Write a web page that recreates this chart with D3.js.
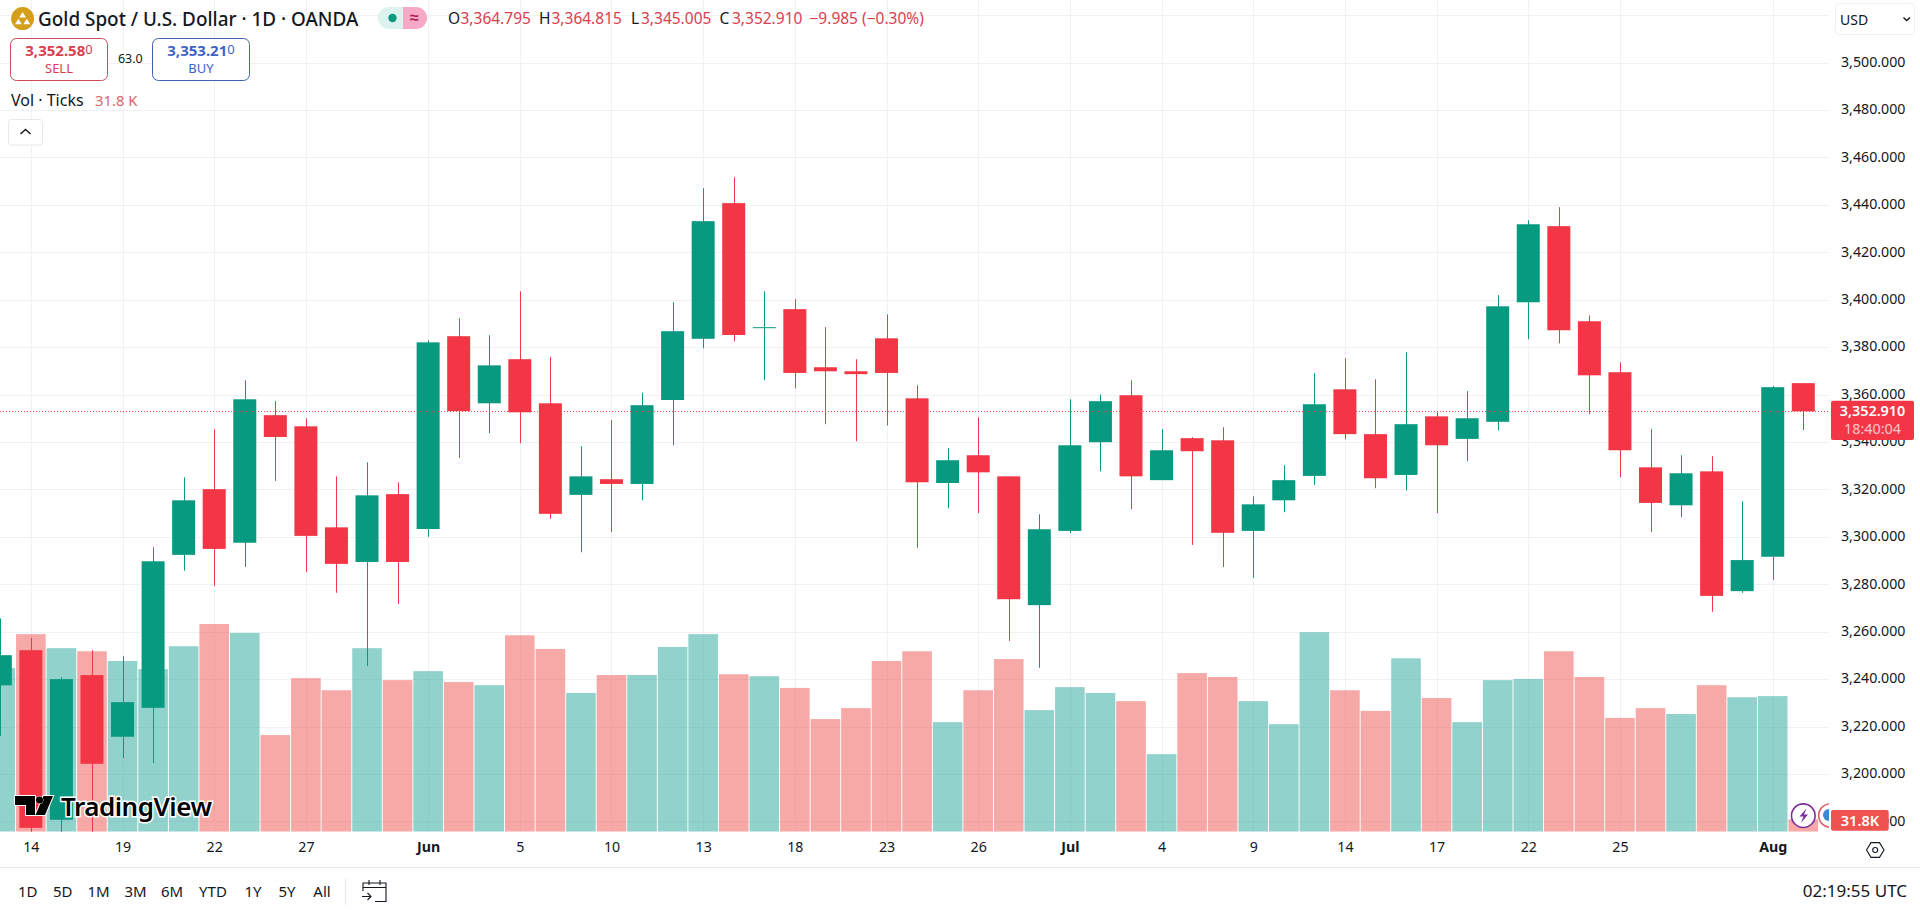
<!DOCTYPE html>
<html>
<head>
<meta charset="utf-8">
<title>Gold Spot / U.S. Dollar</title>
<script src="https://cdnjs.cloudflare.com/ajax/libs/d3/7.9.0/d3.min.js"></script>
<style>
  html, body { margin: 0; padding: 0; background: #fff; overflow: hidden; }
  svg { display: block; font-family: "Noto Sans", sans-serif; }
  .tick text { font-family: "Noto Sans", sans-serif; }
</style>
</head>
<body>
<div id="chart"></div>
<script>
// Daily candles, May 13 to Aug 4 (reading off the picture)
const opens = [3237.4,3252.2,3180.7,3241.7,3215.7,3227.9,3292.4,3320.1,3297.5,3351.3,3346.6,3304.0,3289.4,3318.0,3303.3,3384.6,3356.3,3374.9,3356.3,3317.7,3324.3,3322.3,3357.7,3383.5,3440.7,3388.0,3396.0,3371.5,3369.8,3383.7,3358.4,3322.7,3334.4,3325.5,3271.2,3302.5,3339.9,3359.7,3323.9,3341.6,3340.7,3302.5,3315.4,3325.7,3362.2,3343.3,3326.1,3350.8,3341.3,3348.5,3398.9,3431.0,3390.9,3369.4,3329.3,3313.3,3327.6,3277.1,3291.6,3364.795];
const highs = [3265.6,3257.4,3240.8,3252.2,3249.7,3295.6,3325.1,3345.4,3366.0,3357.2,3350.0,3325.5,3331.4,3323.0,3382.9,3392.2,3385.0,3403.5,3375.9,3338.2,3349.2,3360.8,3398.9,3447.0,3451.6,3403.5,3400.2,3388.4,3374.9,3393.8,3363.9,3337.4,3350.4,3325.6,3309.5,3358.0,3360.1,3366.0,3345.4,3342.0,3346.2,3317.1,3330.2,3369.0,3375.3,3366.4,3377.8,3352.5,3361.4,3401.9,3433.5,3439.0,3393.4,3373.6,3345.4,3334.4,3334.0,3315.0,3363.5,3364.815];
const lows = [3216.1,3175.0,3170.0,3170.0,3206.7,3204.6,3285.7,3279.3,3287.3,3323.6,3285.2,3276.4,3245.5,3271.7,3300.0,3333.3,3343.7,3339.5,3307.6,3293.5,3302.0,3315.4,3338.6,3379.5,3382.5,3366.0,3362.6,3347.5,3340.3,3347.0,3295.4,3312.0,3310.0,3256.1,3244.8,3301.5,3327.6,3311.6,3323.9,3296.6,3287.3,3282.7,3310.4,3321.9,3341.1,3320.5,3319.6,3310.0,3331.9,3344.9,3383.3,3381.6,3351.7,3325.1,3302.0,3308.3,3268.4,3276.4,3281.9,3345.005];
const closes = [3250.1,3177.3,3240.0,3204.3,3230.3,3289.7,3315.4,3294.9,3358.0,3342.1,3300.4,3288.6,3317.5,3289.4,3382.0,3353.0,3372.3,3352.5,3309.7,3325.5,3322.3,3355.5,3386.7,3433.1,3385.1,3388.4,3369.1,3369.8,3368.6,3369.1,3323.0,3332.3,3327.2,3273.7,3303.2,3338.6,3357.2,3325.5,3336.5,3336.1,3301.7,3313.7,3323.9,3355.9,3343.3,3324.7,3347.5,3338.6,3350.0,3397.2,3431.8,3387.1,3368.1,3336.5,3314.3,3326.8,3275.1,3290.2,3363.1,3352.91];
// Tick volume in thousands
const volumes = [420,507,471,463,438,417,476,533,510,248,394,363,471,389,412,384,376,504,469,356,402,402,474,507,404,399,369,289,317,438,463,281,363,443,312,371,356,335,199,407,397,335,276,512,363,310,445,343,281,389,392,463,397,292,317,302,376,345,348,31.8];

const priceTicks = [3500,3480,3460,3440,3420,3400,3380,3360,3340,3320,3300,3280,3260,3240,3220,3200,3180];
const dayTickIndex = [1,4,7,10,14,17,20,23,26,29,32,35,38,41,44,47,50,53,58];
const dayTickLabels = ["14","19","22","27","Jun","5","10","13","18","23","26","Jul","4","9","14","17","22","25","Aug"];
const monthLabels = ["Jun","Jul","Aug"];
const rangeButtons = ["1D","5D","1M","3M","6M","YTD","1Y","5Y","All"];
const rangeButtonX = [27.8,62.8,98.5,135.5,172,213,253,287,322];

const lastPrice = 3352.91;

const GREEN = "#089981", RED = "#f23645";
const width = 1920, height = 910;
const paneRight = 1829, paneBottom = 831.7;

const svg = d3.select("#chart").append("svg")
  .attr("width", width)
  .attr("height", height);

svg.append("defs").append("clipPath").attr("id", "pane")
  .append("rect").attr("width", paneRight).attr("height", paneBottom);

const x = d3.scaleLinear().domain([0, 59]).range([0.3, 1803.3]);
const y = d3.scaleLinear().domain([3200, 3500]).range([774.0, 62.5]);
const yVol = d3.scaleLinear().domain([0, 533]).range([paneBottom, 624]);

const pane = svg.append("g").attr("clip-path", "url(#pane)");

// Grid
pane.append("g").selectAll("line").data(dayTickIndex).join("line")
  .attr("x1", d => Math.round(x(d)) + 0.5).attr("x2", d => Math.round(x(d)) + 0.5)
  .attr("y1", 0).attr("y2", paneBottom)
  .attr("stroke", "#f0f1f4");
pane.append("g").selectAll("line").data([3520, ...priceTicks]).join("line")
  .attr("x1", 0).attr("x2", paneRight)
  .attr("y1", d => Math.round(y(d)) + 0.5).attr("y2", d => Math.round(y(d)) + 0.5)
  .attr("stroke", "#f0f1f4");

// Volume
const isUp = i => closes[i] >= opens[i];
pane.append("g").selectAll("rect").data(volumes).join("rect")
  .attr("x", (d, i) => x(i) - 14.8)
  .attr("width", 29.6)
  .attr("y", d => yVol(d))
  .attr("height", d => paneBottom - yVol(d))
  .attr("fill", (d, i) => isUp(i) ? "rgba(38,166,154,0.5)" : "rgba(239,83,80,0.5)");

// Candles
const candles = pane.append("g").selectAll("g").data(opens).join("g")
  .attr("fill", (d, i) => isUp(i) ? GREEN : RED);
candles.append("rect")
  .attr("x", (d, i) => Math.round(x(i)))
  .attr("width", 1)
  .attr("y", (d, i) => y(highs[i]))
  .attr("height", (d, i) => y(lows[i]) - y(highs[i]));
candles.append("rect")
  .attr("x", (d, i) => x(i) - 11.5)
  .attr("width", 23)
  .attr("y", (d, i) => y(Math.max(opens[i], closes[i])))
  .attr("height", (d, i) => Math.max(1, Math.abs(y(opens[i]) - y(closes[i]))));

// Last price line
pane.append("line")
  .attr("x1", 0).attr("x2", paneRight)
  .attr("y1", Math.round(y(lastPrice)) + 0.5).attr("y2", Math.round(y(lastPrice)) + 0.5)
  .attr("stroke", RED).attr("stroke-opacity", 0.9)
  .attr("stroke-dasharray", "1,2");

// Event badges at the edge of the pane
pane.append("circle").attr("cx", 1803.3).attr("cy", 815.7).attr("r", 11.8)
  .attr("fill", "#fff").attr("stroke", "#7b2d9b").attr("stroke-width", 1.6);
pane.append("path").attr("d", "M1806.5 808.5 L1799.5 816.5 L1803.5 816.5 L1801 823 L1808 814.5 L1804 814.5 Z")
  .attr("fill", "#7b2d9b");
pane.append("circle").attr("cx", 1830.5).attr("cy", 815.5).attr("r", 11.8)
  .attr("fill", "#fff").attr("stroke", "#e2606a").attr("stroke-width", 1.6);
pane.append("circle").attr("cx", 1829).attr("cy", 815).attr("r", 6)
  .attr("fill", "#3d86d8");

// Price axis
const yAxis = svg.append("g")
  .attr("transform", "translate(1829,0)")
  .call(d3.axisRight(y).tickValues(priceTicks).tickFormat(d3.format(",.3f")).tickSize(0).tickPadding(12));
yAxis.select(".domain").remove();
yAxis.selectAll("text").attr("font-size", 14.2).attr("fill", "#131722").attr("dy", "0.27em");

// Time axis
const xAxis = svg.append("g")
  .attr("transform", `translate(0,${paneBottom})`)
  .call(d3.axisBottom(x).tickValues(dayTickIndex).tickFormat((d, i) => dayTickLabels[i]).tickSize(0).tickPadding(10.5));
xAxis.select(".domain").remove();
xAxis.selectAll("text")
  .attr("font-size", 14.2)
  .attr("fill", "#131722")
  .attr("font-weight", (d, i) => monthLabels.includes(dayTickLabels[i]) ? 700 : 400);

svg.append("line").attr("x1", 0).attr("x2", width).attr("y1", 867.5).attr("y2", 867.5)
  .attr("stroke", "#e6e8ee");

// Axis labels
svg.append("rect").attr("x", 1831).attr("y", 400.7).attr("width", 83).attr("height", 39.3).attr("rx", 2)
  .attr("fill", RED);
svg.append("text").attr("x", 1872.5).attr("y", 416).attr("text-anchor", "middle")
  .attr("font-size", 14.4).attr("font-weight", 600).attr("fill", "#fff").text(d3.format(",.3f")(lastPrice));
svg.append("text").attr("x", 1872.5).attr("y", 434).attr("text-anchor", "middle")
  .attr("font-size", 14.4).attr("fill", "#fbc6cb").text("18:40:04");
svg.append("rect").attr("x", 1831).attr("y", 810).attr("width", 57.7).attr("height", 20.7).attr("rx", 2)
  .attr("fill", "#ef5350");
svg.append("text").attr("x", 1860).attr("y", 825.5).attr("text-anchor", "middle")
  .attr("font-size", 14.6).attr("font-weight", 600).attr("fill", "#fff").text("31.8K");

// Settings hexagon
svg.append("path").attr("d", "M1866.5 850 L1871 842.6 L1879.5 842.6 L1884 850 L1879.5 857.4 L1871 857.4 Z")
  .attr("fill", "none").attr("stroke", "#131722").attr("stroke-width", 1.1);
svg.append("circle").attr("cx", 1875.2).attr("cy", 850).attr("r", 2.5)
  .attr("fill", "none").attr("stroke", "#131722").attr("stroke-width", 1.1);

// Currency select
svg.append("rect").attr("x", 1835.5).attr("y", 3.5).attr("width", 79).attr("height", 31).attr("rx", 4)
  .attr("fill", "#fff").attr("stroke", "#eff0f3");
svg.append("text").attr("x", 1840).attr("y", 24.5).attr("font-size", 14).attr("fill", "#131722").text("USD");
svg.append("path").attr("d", "M1903.5 17.5 L1906.7 20.5 L1910 17.5").attr("fill", "none")
  .attr("stroke", "#131722").attr("stroke-width", 1.4);

// Symbol header
const header = svg.append("g");
header.append("circle").attr("cx", 22.6).attr("cy", 18.6).attr("r", 11.5).attr("fill", "#d49f1a");
header.append("path").attr("d", "M22.6 12 L26 17.5 L19.2 17.5 Z M18.4 18.8 L21.8 24.3 L15 24.3 Z M26.8 18.8 L30.2 24.3 L23.4 24.3 Z")
  .attr("fill", "#fff");
header.append("text").attr("x", 38).attr("y", 25.5).attr("font-size", 18.9).attr("font-weight", 500)
  .attr("fill", "#131722").text("Gold Spot / U.S. Dollar · 1D · OANDA");

header.append("path").attr("d", "M403 7 H389 a11 11 0 0 0 0 22 H403 Z").attr("fill", "#dcf2ee");
header.append("path").attr("d", "M403 7 H416 a11 11 0 0 1 0 22 H403 Z").attr("fill", "#f7a8c6");
header.append("circle").attr("cx", 392.5).attr("cy", 18).attr("r", 4.2).attr("fill", GREEN);
header.append("text").attr("x", 414.5).attr("y", 23).attr("text-anchor", "middle").attr("font-size", 16)
  .attr("font-weight", 700).attr("fill", "#b01e56").text("≈");

const ohlcLabels = ["O","H","L","C"];
const ohlcLabelX = [448,539,631,719.5];
const ohlcValueX = [460.5,551.5,641,732];
const ohlcValues = [opens[59],highs[59],lows[59],closes[59]];
header.selectAll("text.ohlc-label").data(ohlcLabels).join("text")
  .attr("class", "ohlc-label")
  .attr("x", (d, i) => ohlcLabelX[i]).attr("y", 24).attr("font-size", 15.5).attr("fill", "#131722").text(d => d);
header.selectAll("text.ohlc-value").data(ohlcValues).join("text")
  .attr("class", "ohlc-value")
  .attr("x", (d, i) => ohlcValueX[i]).attr("y", 24).attr("font-size", 15.5).attr("fill", "#d8404f")
  .text(d => d3.format(",.3f")(d));
header.append("text").attr("x", 809.5).attr("y", 24).attr("font-size", 15.5).attr("fill", "#d8404f")
  .text("−9.985 (−0.30%)");

// Sell / buy buttons
header.append("rect").attr("x", 10.5).attr("y", 38.5).attr("width", 97).attr("height", 42).attr("rx", 6)
  .attr("fill", "#fff").attr("stroke", "#cf4a59");
header.append("rect").attr("x", 152.5).attr("y", 38.5).attr("width", 97).attr("height", 42).attr("rx", 6)
  .attr("fill", "#fff").attr("stroke", "#3f62b5");
const sellText = header.append("text").attr("x", 59).attr("y", 55.5).attr("text-anchor", "middle")
  .attr("font-size", 15).attr("fill", "#d8404f");
sellText.append("tspan").attr("font-weight", 700).text("3,352.58");
sellText.append("tspan").attr("font-size", 13).attr("dy", -2).text("0");
header.append("text").attr("x", 59).attr("y", 72.5).attr("text-anchor", "middle").attr("font-size", 13)
  .attr("fill", "#d8404f").text("SELL");
const buyText = header.append("text").attr("x", 201).attr("y", 55.5).attr("text-anchor", "middle")
  .attr("font-size", 15).attr("fill", "#3f62c5");
buyText.append("tspan").attr("font-weight", 700).text("3,353.21");
buyText.append("tspan").attr("font-size", 13).attr("dy", -2).text("0");
header.append("text").attr("x", 201).attr("y", 72.5).attr("text-anchor", "middle").attr("font-size", 13)
  .attr("fill", "#3f62c5").text("BUY");
header.append("text").attr("x", 130.3).attr("y", 62.5).attr("text-anchor", "middle").attr("font-size", 12.5)
  .attr("fill", "#131722").text("63.0");

// Volume legend
header.append("text").attr("x", 11).attr("y", 106).attr("font-size", 16).attr("fill", "#131722").text("Vol · Ticks");
header.append("text").attr("x", 95).attr("y", 106).attr("font-size", 14.8).attr("fill", "#d9686b").text("31.8 K");
header.append("rect").attr("x", 8.5).attr("y", 119.5).attr("width", 34).attr("height", 25.5).attr("rx", 3)
  .attr("fill", "#fff").attr("stroke", "#e6e8ee");
header.append("path").attr("d", "M20.5 134 L25.5 129.5 L30.5 134").attr("fill", "none")
  .attr("stroke", "#131722").attr("stroke-width", 1.4);

// TradingView watermark
const logo = svg.append("g");
logo.append("path").attr("d", "M15 796 H35 V815 H26 V805 H15 Z M53 796 L45 815 H35.5 L43.5 796 Z")
  .attr("fill", "#000").attr("stroke", "#fff").attr("stroke-width", 2).attr("paint-order", "stroke");
logo.append("circle").attr("cx", 39.5).attr("cy", 800).attr("r", 3.6).attr("fill", "#000")
  .attr("stroke", "#fff").attr("stroke-width", 1).attr("paint-order", "stroke");
logo.append("text").attr("x", 61).attr("y", 816).attr("font-size", 26).attr("font-weight", 600)
  .attr("fill", "#000").attr("stroke", "#fff").attr("stroke-width", 3).attr("paint-order", "stroke")
  .attr("letter-spacing", -0.5).text("TradingView");

// Bottom toolbar
const toolbar = svg.append("g");
toolbar.selectAll("text").data(rangeButtons).join("text")
  .attr("x", (d, i) => rangeButtonX[i]).attr("y", 897)
  .attr("text-anchor", "middle").attr("font-size", 15).attr("fill", "#131722").text(d => d);
toolbar.append("line").attr("x1", 345.5).attr("x2", 345.5).attr("y1", 878).attr("y2", 905).attr("stroke", "#e6e8ee");
toolbar.append("path")
  .attr("d", "M363 891 V883 H386 V901.5 H375 M363 887.5 H386 M369 880 V885 M380 880 V885 M362 896.5 H371 M367.5 893 L371 896.5 L367.5 900")
  .attr("fill", "none").attr("stroke", "#131722").attr("stroke-width", 1.1);
svg.append("text").attr("x", 1907).attr("y", 897).attr("text-anchor", "end").attr("font-size", 17)
  .attr("fill", "#131722").text("02:19:55 UTC");
</script>
</body>
</html>
